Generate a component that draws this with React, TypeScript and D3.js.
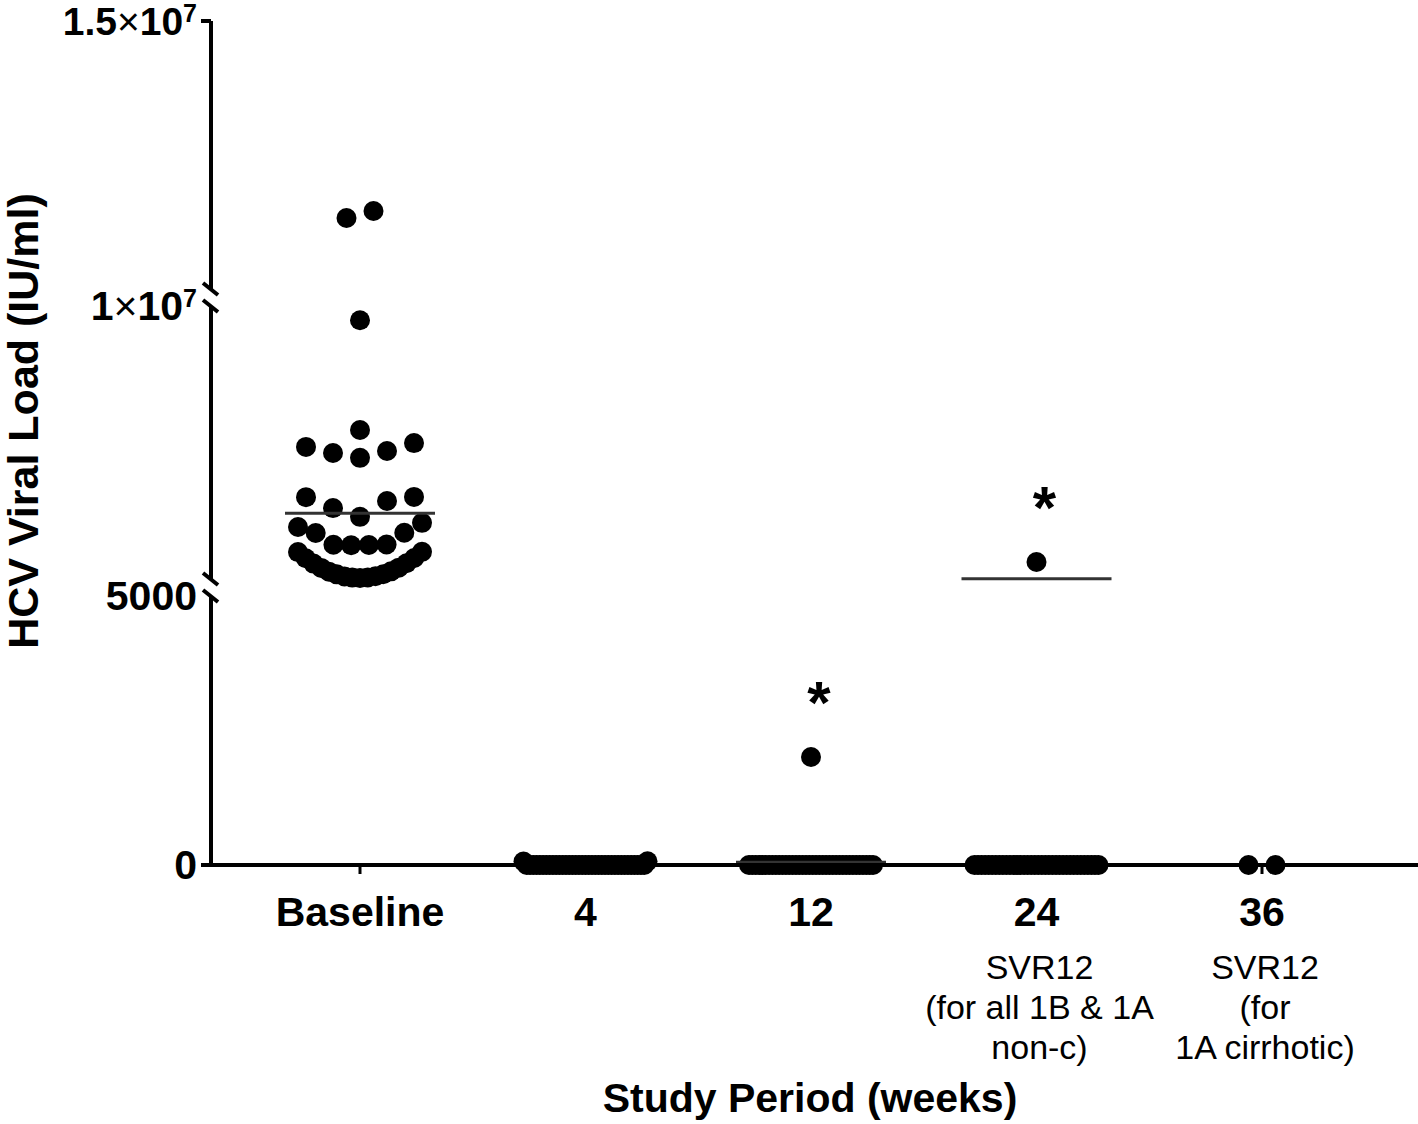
import React from 'react'
import * as d3 from 'd3'

// HCV viral load by study visit (IU/ml)
const categories = ['Baseline', '4', '12', '24', '36']
const subLabels = [[], [], [], ['SVR12', '(for all 1B & 1A', 'non-c)'], ['SVR12', '(for', '1A cirrhotic)']]
const starred = [false, false, true, true, false]

const baseline = [
  11455000, 11325000, 9480000,
  5460000, 4980000, 4840000, 4690000, 4620000, 4440000,
  3010000, 3000000, 2860000, 2600000, 2280000,
  2060000, 1910000, 1700000, 1690000,
  1270000, 1260000, 1250000, 1240000,
  1000000, 990000, 775000, 765000, 580000, 570000, 420000, 410000,
  285000, 275000, 180000, 175000, 105000, 100000, 60000, 56000, 40000,
]
const week4 = [
  0, 0, 0, 0, 0, 0, 0, 0, 0, 0, 0, 0, 0, 0, 0, 0, 0, 0, 0, 0,
  0, 0, 0, 0, 0, 0, 0, 0, 0, 0, 0, 0, 0, 0, 0, 0, 0, 65, 70,
]
const week12 = [
  0, 0, 0, 0, 0, 0, 0, 0, 0, 0, 0, 0, 0, 0, 0, 0, 0, 0, 0, 0,
  0, 0, 0, 0, 0, 0, 0, 0, 0, 0, 0, 0, 0, 0, 0, 0, 0, 0, 2007,
]
const week24 = [
  0, 0, 0, 0, 0, 0, 0, 0, 0, 0, 0, 0, 0, 0, 0, 0, 0, 0, 0, 0,
  0, 0, 0, 0, 0, 0, 0, 0, 0, 0, 0, 0, 0, 0, 0, 0, 627000,
]
const week36 = [0, 0]
const groups = [baseline, week4, week12, week24, week36]

const yTicks = [0, 5000, 10000000, 15000000]

const W = 1418
const H = 1124
const axisX = 211
const axisY = 865
const R = 10
const FONT = '"Liberation Sans", Arial, Helvetica, sans-serif'

// broken y axis: three linear pieces
const yBottom = d3.scaleLinear().domain([0, 5000]).range([axisY, 596])
const yMiddle = d3.scaleLinear().domain([5000, 10000000]).range([579, 306])
const yTop = d3.scaleLinear().domain([10000000, 15000000]).range([289, 21])
const segments: [number, number][] = [[21, 289], [306, 579], [596, axisY]]
const breaks = [289, 306, 579, 596]

function y(v: number) {
  if (v <= 5000) return yBottom(v)
  if (v <= 10000000) return yMiddle(v)
  return yTop(v)
}

const x = d3.scalePoint<string>().domain(categories).range([360, 1262])

// prism-like scatter: points binned into rows by height, each row spread
// from the middle outwards in value order, squeezed when the row is too wide
function spread(ys: number[], binH = 27, gap = 13, step = 27, hw = 62) {
  const order = d3.range(ys.length).sort((a, b) => ys[b] - ys[a])
  const bins: number[][] = []
  let cur: number[] = []
  for (const i of order) {
    if (cur.length) {
      const first = ys[cur[0]]
      const last = ys[cur[cur.length - 1]]
      if (first - ys[i] > binH || last - ys[i] > gap) { bins.push(cur); cur = [] }
    }
    cur.push(i)
  }
  if (cur.length) bins.push(cur)
  const out: number[] = new Array(ys.length).fill(0)
  for (const b of bins) {
    const n = b.length
    const s = n > 1 ? Math.min(step, (2 * hw) / (n - 1)) : 0
    b.forEach((idx, k) => {
      if (n % 2 === 1) {
        const j = Math.ceil(k / 2)
        out[idx] = k === 0 ? 0 : (k % 2 === 1 ? -j : j) * s
      } else {
        const j = Math.floor(k / 2) + 0.5
        out[idx] = (k % 2 === 0 ? -j : j) * s
      }
    })
  }
  return out
}

function tickLabel(v: number) {
  if (v < 1000000) return <>{String(v)}</>
  const e = Math.floor(Math.log10(v))
  const m = +(v / Math.pow(10, e)).toFixed(2)
  return (
    <>
      {m}<tspan fontWeight="normal">×</tspan>10<tspan dy={-13} fontSize={25}>{e}</tspan>
    </>
  )
}

export default function App() {
  const dots = groups.map((vals, gi) => {
    const ys = vals.map(y)
    const offs = spread(ys)
    return vals.map((v, i) => ({ cx: (x(categories[gi]) as number) + offs[i], cy: ys[i] }))
  })
  const means = groups.map((vals) => d3.mean(vals) as number)

  return (
    <div style={{ position: 'absolute', left: 0, top: 0 }}>
      <svg width={W} height={H} style={{ display: 'block', background: '#fff' }} fontFamily={FONT}>
        {/* points */}
        {dots.map((g, gi) =>
          g.map((p, i) => <circle key={gi + '-' + i} cx={p.cx} cy={p.cy} r={R} fill="#000" />)
        )}
        {/* mean lines */}
        {means.map((m, gi) => (
          <line key={'m' + gi} x1={(x(categories[gi]) as number) - 75} x2={(x(categories[gi]) as number) + 75}
            y1={y(m)} y2={y(m)} stroke="#333" strokeWidth={3} />
        ))}
        {/* significance stars */}
        {groups.map((vals, gi) => starred[gi] ? (
          <text key={'s' + gi} x={(x(categories[gi]) as number) + 8} y={y(d3.max(vals) as number) - 34}
            textAnchor="middle" fontSize={60} fontWeight="bold">*</text>
        ) : null)}

        {/* x axis */}
        <line x1={axisX - 10} x2={W} y1={axisY} y2={axisY} stroke="#000" strokeWidth={4} />
        {categories.map((c) => (
          <line key={'xt' + c} x1={x(c)} x2={x(c)} y1={axisY} y2={axisY + 9} stroke="#000" strokeWidth={3} />
        ))}
        {categories.map((c) => (
          <text key={'xl' + c} x={x(c)} y={926} textAnchor="middle" fontSize={41} fontWeight="bold">{c}</text>
        ))}
        {subLabels.map((lines, gi) => lines.map((t, li) => (
          <text key={'sub' + gi + li} x={(x(categories[gi]) as number) + 3} y={979 + li * 40} textAnchor="middle" fontSize={34}>{t}</text>
        )))}
        <text x={810} y={1112} textAnchor="middle" fontSize={41} fontWeight="bold">Study Period (weeks)</text>

        {/* y axis with breaks */}
        {segments.map(([a, b], i) => (
          <line key={'seg' + i} x1={axisX} x2={axisX} y1={a} y2={b} stroke="#000" strokeWidth={4} />
        ))}
        {breaks.map((b) => (
          <line key={'br' + b} x1={axisX - 8} x2={axisX + 7} y1={b - 6} y2={b + 6} stroke="#000" strokeWidth={4} />
        ))}
        <line x1={axisX - 10} x2={axisX} y1={21} y2={21} stroke="#000" strokeWidth={4} />
        {yTicks.map((v) => (
          <text key={'yl' + v} x={197} y={y(v) + 14} textAnchor="end" fontSize={v === 15000000 ? 39 : 41} fontWeight="bold">
            {tickLabel(v)}
          </text>
        ))}
        <text transform="translate(38,421) rotate(-90)" textAnchor="middle" fontSize={43} fontWeight="bold">
          HCV Viral Load (IU/ml)
        </text>
      </svg>
    </div>
  )
}
